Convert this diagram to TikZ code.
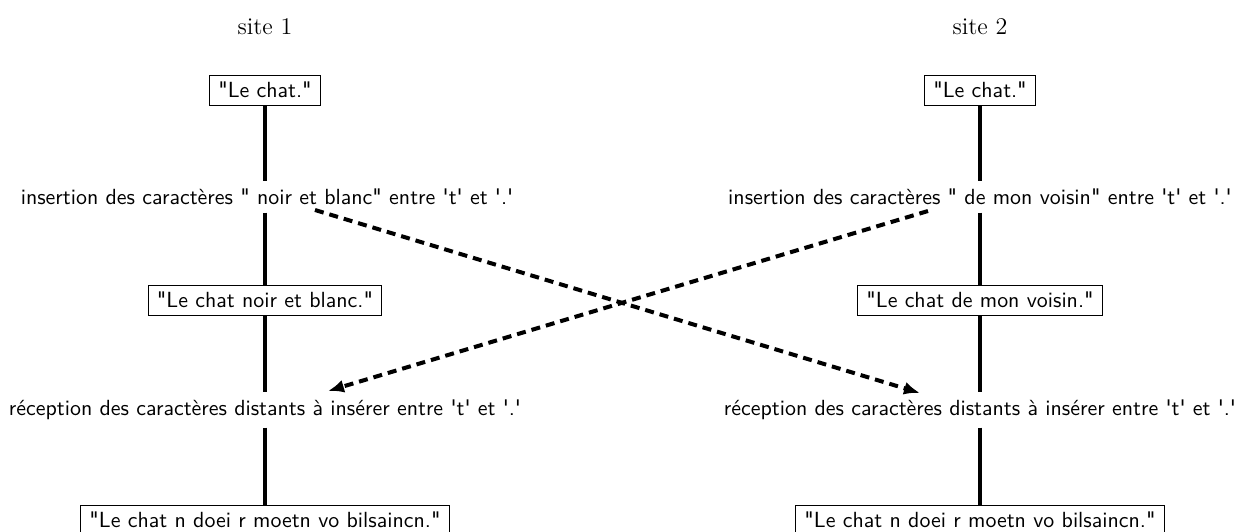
\documentclass[11pt,tikz,border=0pt]{standalone}
\usepackage{fontspec}
\setsansfont{lmsans10-regular}[Extension=.otf, Ligatures=TeXOff]
\usetikzlibrary{positioning, arrows.meta}
\tikzset{etat/.style={draw, font=\sffamily, inner xsep=4.4pt, inner ysep=3.5pt}}
\tikzset{op/.style={font=\sffamily}}
\tikzset{site/.style={font=\large}}
\tikzset{trait/.style={line width=2pt}}
\tikzset{envoi/.style={-{Latex[length=8pt,width=6.5pt]}, dash pattern=on 4.5pt off 3pt, line width=2pt}}

\begin{document}
\begin{tikzpicture}[x=0.5pt,y=-0.5pt]
    \useasboundingbox (0,0) rectangle (1235,531);

    \node[site] (site1) at (265,27) {site 1};
    \node[site] (site2) at (980,27) {site 2};

    % site 1
    \node[etat] (a1) at (265,90) {"Le chat."};
    \node[op] (ins1) at (267,197) {insertion des caractères " noir et blanc" entre 't' et '.'};
    \node[etat] (b1) at (265,300) {"Le chat noir et blanc."};
    \node[op] (rec1) at (265,410) {réception des caractères distants à insérer entre 't' et '.'};
    \node[etat] (c1) at (265,520) {"Le chat n doei r moetn vo bilsaincn."};

    % site 2
    \node[etat] (a2) at (980,90) {"Le chat."};
    \node[op] (ins2) at (980,197) {insertion des caractères " de mon voisin" entre 't' et '.'};
    \node[etat] (b2) at (980,300) {"Le chat de mon voisin."};
    \node[op] (rec2) at (980,410) {réception des caractères distants à insérer entre 't' et '.'};
    \node[etat] (c2) at (980,520) {"Le chat n doei r moetn vo bilsaincn."};

    \draw[trait] (a1) -- (a1 |- ins1.north);
    \draw[trait] (a1 |- ins1.south) -- (b1);
    \draw[trait] (b1) -- (rec1);
    \draw[trait] (rec1) -- (c1);

    \draw[trait] (a2) -- (ins2);
    \draw[trait] (ins2) -- (b2);
    \draw[trait] (b2) -- (rec2);
    \draw[trait] (rec2) -- (c2);

    \coordinate (dep1) at (315,210);
    \coordinate (arr2) at (920,393);
    \coordinate (dep2) at (928,211);
    \coordinate (arr1) at (328,391);

    \draw[envoi] (dep1) -- (arr2);
    \draw[envoi] (dep2) -- (arr1);
\end{tikzpicture}
\end{document}
